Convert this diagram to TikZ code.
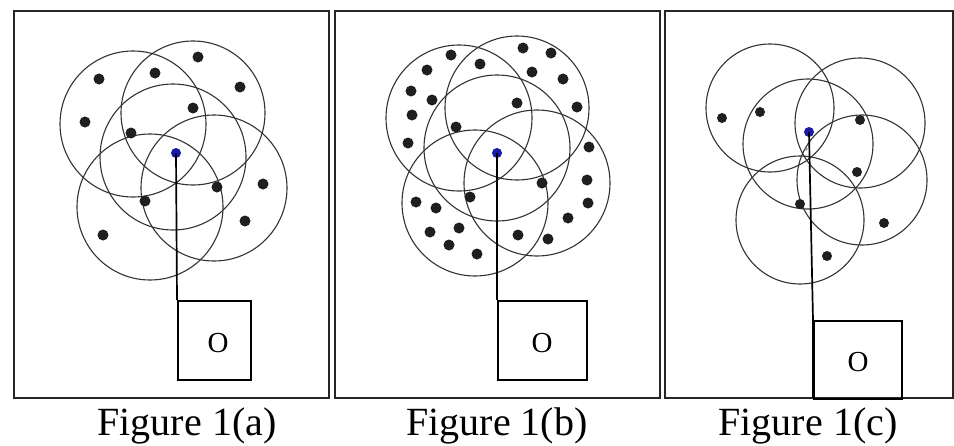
\documentclass[tikz,border=0pt]{standalone}
\usepackage{fontspec}
\setmainfont{Liberation Serif}
\begin{document}
\begin{tikzpicture}[x=1pt,y=-1pt,
  frame/.style={draw=black!85,line width=2.4pt},
  ring/.style={circle,draw=black!80,line width=1.1pt,inner sep=0pt},
  dot/.style={circle,fill=black!88,inner sep=0pt,minimum size=11pt},
  sdot/.style={circle,fill=black!88,inner sep=0pt,minimum size=10pt},
  speck/.style={circle,fill=black!45,inner sep=0pt,minimum size=3.5pt},
  sink/.style={circle,fill={rgb,255:red,25;green,25;blue,170},inner sep=0pt,minimum size=10pt},
  obox/.style={draw=black,line width=1.7pt,inner sep=0pt},
  olabel/.style={inner sep=0pt,font=\fontsize{29}{32}\selectfont},
  link/.style={draw=black,line width=1.7pt},
  caption/.style={anchor=base,inner sep=0pt,font=\fontsize{40}{46}\selectfont}]
\useasboundingbox[fill=white] (0,0) rectangle (954,445);
% frames
\node[frame,inner sep=0pt,minimum width=315pt,minimum height=387pt,anchor=north west] (fa) at (13,10) {};
\node[frame,inner sep=0pt,minimum width=325pt,minimum height=387pt,anchor=north west] (fb) at (334,10) {};
\node[frame,inner sep=0pt,minimum width=288pt,minimum height=387pt,anchor=north west] (fc) at (664,10) {};
% ---------- panel (a)
\node[ring,minimum size=146pt] (a1) at (133,124) {};
\node[ring,minimum size=144pt] (a2) at (193,113) {};
\node[ring,minimum size=146pt] (a3) at (173,157) {};
\node[ring,minimum size=146pt] (a4) at (150,207) {};
\node[ring,minimum size=146pt] (a5) at (214,188) {};
\foreach \p [count=\i] in {(99,79),(155,73),(198,57),(240,87),(85,122),(193,108),(131,133),(217,187),(263,184),(145,201),(245,221),(103,235)}
  \node[dot] (ad\i) at \p {};
\node[obox,minimum width=73pt,minimum height=79pt,anchor=north west] (boxa) at (177,300) {};
\node[olabel] (oa) at (218,343) {O};
\node[sink] (sa) at (176,153) {};
\draw[link] (sa.center) -- (boxa.north west);
% ---------- panel (b)
\node[ring,minimum size=146pt] (b1) at (459,118) {};
\node[ring,minimum size=144pt] (b2) at (517,108) {};
\node[ring,minimum size=146pt] (b3) at (497,148) {};
\node[ring,minimum size=146pt] (b4) at (475,203) {};
\node[ring,minimum size=146pt] (b5) at (537,183) {};
\foreach \p [count=\i] in {(451,55),(427,70),(480,64),(523,48),(551,53),(532,72),(563,79),(411,91),(432,100),(517,103),(577,107),(412,115),(456,127),(408,143),(589,147),(542,183),(587,180),(470,197),(588,203),(416,202),(436,208),(568,218),(459,228),(430,232),(518,235),(548,239),(449,245),(477,254)}
  \node[dot] (bd\i) at \p {};
\node[obox,minimum width=89pt,minimum height=79pt,anchor=north west] (boxb) at (497,300) {};
\node[olabel] (ob) at (542,343) {O};
\node[sink] (sb) at (497,153) {};
\draw[link] (sb.center) -- (boxb.north west);
% ---------- panel (c)
\node[ring,minimum size=128pt] (c1) at (770,108) {};
\node[ring,minimum size=130pt] (c2) at (860,123) {};
\node[ring,minimum size=130pt] (c3) at (808,144) {};
\node[ring,minimum size=128pt] (c4) at (800,220) {};
\node[ring,minimum size=130pt] (c5) at (862,180) {};
\foreach \p [count=\i] in {(722,118),(760,112),(860,120),(857,172),(800,204),(884,223),(827,256)}
  \node[sdot] (cd\i) at \p {};
\node[speck] (cs) at (806,149) {};
\node[obox,minimum width=88pt,minimum height=78pt,anchor=north west] (boxc) at (813,320) {};
\node[olabel] (oc) at (858,362) {O};
\node[sink] (sc) at (809,132) {};
\coordinate (cend) at (813,398);
\draw[link] (sc.center) -- (boxc.north west) -- (cend);
% ---------- captions
\node[caption] (ta) at (187,435) {Figure 1(a)};
\node[caption] (tb) at (497,435) {Figure 1(b)};
\node[caption] (tc) at (808,435) {Figure 1(c)};
\end{tikzpicture}
\end{document}
